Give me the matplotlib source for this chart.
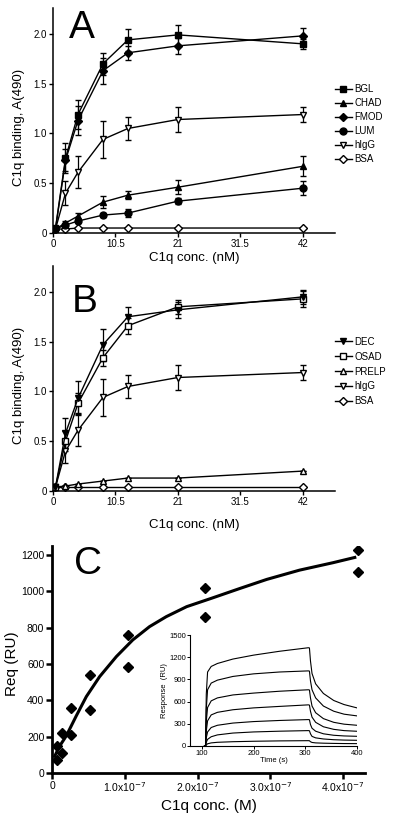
import numpy as np
import matplotlib
matplotlib.use("Agg")
import matplotlib.pyplot as plt
from matplotlib.lines import Line2D

plt.rcParams["font.family"] = ["Liberation Sans", "DejaVu Sans"]

# ---- panel A / B : ELISA binding, C1q conc. (nM) ----
conc_nm = [0.42, 2.1, 4.2, 8.4, 12.6, 21, 42]

bgl = [0.05, 0.75, 1.19, 1.70, 1.94, 1.99, 1.90]
bgl_err = [0.0, 0.15, 0.15, 0.11, 0.11, 0.10, 0.05]
chad = [0.04, 0.10, 0.17, 0.31, 0.38, 0.46, 0.67]
chad_err = [0.0, 0.02, 0.03, 0.06, 0.04, 0.07, 0.10]
fmod = [0.04, 0.73, 1.13, 1.63, 1.81, 1.88, 1.98]
fmod_err = [0.0, 0.11, 0.15, 0.13, 0.07, 0.08, 0.08]
lum = [0.04, 0.08, 0.12, 0.18, 0.20, 0.32, 0.45]
lum_err = [0.0, 0.01, 0.02, 0.02, 0.04, 0.03, 0.07]
higg = [0.04, 0.40, 0.61, 0.94, 1.05, 1.14, 1.19]
higg_err = [0.0, 0.12, 0.16, 0.19, 0.12, 0.13, 0.08]
bsa_a = [0.04, 0.04, 0.05, 0.05, 0.05, 0.05, 0.05]

dec = [0.04, 0.58, 0.93, 1.47, 1.75, 1.82, 1.95]
dec_err = [0.0, 0.15, 0.17, 0.16, 0.10, 0.08, 0.07]
osad = [0.04, 0.50, 0.88, 1.34, 1.66, 1.85, 1.93]
osad_err = [0.0, 0.10, 0.10, 0.08, 0.08, 0.07, 0.08]
prelp = [0.04, 0.05, 0.07, 0.10, 0.13, 0.13, 0.20]
bsa_b = [0.04, 0.04, 0.04, 0.04, 0.04, 0.04, 0.04]

xticks_nm = [0, 10.5, 21, 31.5, 42]
xtick_labels_nm = ["0", "10.5", "21", "31.5", "42"]
yticks_ab = [0, 0.5, 1.0, 1.5, 2.0]
ytick_labels_ab = ["0", "0.5", "1.0", "1.5", "2.0"]

# ---- panel C : SPR equilibrium response ----
conc_m = [0.0656e-7, 0.0656e-7, 0.131e-7, 0.131e-7, 0.2625e-7, 0.2625e-7,
          0.525e-7, 0.525e-7, 1.05e-7, 1.05e-7, 2.1e-7, 2.1e-7, 4.2e-7, 4.2e-7]
req = [71, 146, 108, 223, 209, 359, 348, 540, 586, 762, 861, 1020, 1108, 1227]

# fitted curve
fit_x = [0.037e-7, 0.1e-7, 0.197e-7, 0.334e-7, 0.472e-7, 0.655e-7, 0.884e-7,
         1.11e-7, 1.34e-7, 1.57e-7, 1.85e-7, 2.19e-7, 2.58e-7, 2.95e-7,
         3.40e-7, 3.86e-7, 4.16e-7]
fit_y = [92, 145, 205, 315, 421, 531, 641, 733, 806, 861, 916, 962, 1016,
         1066, 1117, 1158, 1187]

xticks_m = [0, 1e-7, 2e-7, 3e-7, 4e-7]
xtick_labels_m = ["0", "1.0x10$^{-7}$", "2.0x10$^{-7}$", "3.0x10$^{-7}$", "4.0x10$^{-7}$"]
yticks_c = [0, 200, 400, 600, 800, 1000, 1200]

# inset sensorgrams
sg_time = [105, 107, 108.5, 111, 118, 130, 160, 200, 250, 306, 308, 310, 313,
           320, 335, 355, 375, 400]
sg_curves = [
    [0, 0, 700, 1000, 1075, 1115, 1175, 1228, 1280, 1328, 1325, 1150, 980, 840, 710, 615, 560, 515],
    [0, 0, 500, 760, 850, 890, 940, 975, 1000, 1015, 1012, 880, 760, 650, 540, 470, 430, 407],
    [0, 0, 330, 520, 610, 650, 690, 715, 740, 760, 757, 650, 540, 450, 370, 320, 295, 280],
    [0, 0, 200, 340, 420, 455, 490, 515, 535, 556, 553, 470, 390, 320, 260, 225, 208, 199],
    [0, 0, 110, 190, 250, 280, 310, 330, 345, 357, 355, 290, 240, 200, 165, 145, 136, 131],
    [0, 0, 50, 90, 125, 150, 175, 190, 200, 208, 206, 165, 130, 110, 95, 85, 80, 77],
    [0, 0, 15, 30, 42, 50, 58, 64, 69, 72, 71, 58, 48, 42, 38, 35, 33, 32],
]

W, H = 400, 818
fig = plt.figure(figsize=(W / 100, H / 100), dpi=100)


def px_axes(left, top, right, bottom):
    ax = fig.add_axes([left / W, 1 - bottom / H, (right - left) / W, (bottom - top) / H])
    ax.patch.set_alpha(0)
    return ax


def style_ab(ax, ymax):
    ax.spines["top"].set_visible(False)
    ax.spines["right"].set_visible(False)
    for s in ("left", "bottom"):
        ax.spines[s].set_linewidth(1.1)
    ax.set_xlim(0, 47.4)
    ax.set_ylim(0, ymax)
    ax.set_xticks(xticks_nm)
    ax.set_xticklabels(xtick_labels_nm)
    ax.set_yticks(yticks_ab)
    ax.set_yticklabels(ytick_labels_ab)
    ax.tick_params(labelsize=7, length=3, width=1, pad=1.5)
    ax.set_ylabel("C1q binding, A(490)", fontsize=9.5)
    ax.set_xlabel("C1q conc. (nM)", fontsize=9.5)


def series(ax, y, err, marker, fill, ms=5, label=None):
    mfc = "black" if fill else "white"
    ax.errorbar(conc_nm, y, yerr=err, color="black", lw=1, marker=marker,
                ms=ms, mfc=mfc, mec="black", mew=1, capsize=2.3, elinewidth=0.9,
                capthick=0.9, label=label)


def legend_handles(specs):
    hs = []
    for marker, fill, ms in specs:
        hs.append(Line2D([], [], color="black", lw=1, marker=marker, ms=ms,
                         mfc="black" if fill else "white", mec="black", mew=1))
    return hs


# ---- A ----
axA = px_axes(53, 8, 335, 233)
zero = [0] * 7
series(axA, bsa_a, zero, "D", False, ms=4.5)
series(axA, lum, lum_err, "o", True)
series(axA, chad, chad_err, "^", True)
series(axA, higg, higg_err, "v", False)
series(axA, fmod, fmod_err, "D", True, ms=4.5)
series(axA, bgl, bgl_err, "s", True)
style_ab(axA, 2.26)
axA.xaxis.set_label_coords(0.5, -0.085)
axA.yaxis.set_label_coords(-0.1, 0.47)
axA.text(0.055, 0.99, "A", transform=axA.transAxes, fontsize=28, va="top", ha="left")
hA = legend_handles([("s", True, 5), ("^", True, 5), ("D", True, 4.5),
                     ("o", True, 5), ("v", False, 5), ("D", False, 4.5)])
axA.legend(hA, ["BGL", "CHAD", "FMOD", "LUM", "hIgG", "BSA"], loc="upper left",
           bbox_to_anchor=(1.0, 0.66), frameon=False, fontsize=7, borderpad=0,
           handlelength=1.7, handletextpad=0.3, labelspacing=0.4, borderaxespad=0)

# ---- B ----
axB = px_axes(53, 266, 335, 491)
series(axB, bsa_b, zero, "D", False, ms=4.5)
series(axB, prelp, zero, "^", False)
series(axB, higg, higg_err, "v", False)
series(axB, osad, osad_err, "s", False)
series(axB, dec, dec_err, "v", True)
style_ab(axB, 2.26)
axB.xaxis.set_label_coords(0.5, -0.125)
axB.yaxis.set_label_coords(-0.1, 0.47)
axB.text(0.065, 0.92, "B", transform=axB.transAxes, fontsize=28, va="top", ha="left")
hB = legend_handles([("v", True, 5), ("s", False, 5), ("^", False, 5),
                     ("v", False, 5), ("D", False, 4.5)])
axB.legend(hB, ["DEC", "OSAD", "PRELP", "hIgG", "BSA"], loc="upper left",
           bbox_to_anchor=(1.0, 0.685), frameon=False, fontsize=7, borderpad=0,
           handlelength=1.7, handletextpad=0.3, labelspacing=0.5, borderaxespad=0)

# ---- C ----
axC = px_axes(52, 546, 365, 773)
axC.plot(fit_x, fit_y, color="black", lw=2.2)
axC.plot(conc_m, req, "D", color="black", ms=5, ls="none")
axC.spines["top"].set_visible(False)
axC.spines["right"].set_visible(False)
for s in ("left", "bottom"):
    axC.spines[s].set_linewidth(2)
axC.set_xlim(0, 4.3e-7)
axC.set_ylim(0, 1250)
axC.set_xticks(xticks_m)
axC.set_xticklabels(xtick_labels_m)
axC.set_yticks(yticks_c)
axC.tick_params(labelsize=7.5, length=4, width=1.8, pad=1.5)
axC.set_ylabel("Req (RU)", fontsize=11)
axC.set_xlabel("C1q conc. (M)", fontsize=11)
axC.yaxis.set_label_coords(-0.105, 0.48)
axC.xaxis.set_label_coords(0.5, -0.115)
axC.text(0.07, 1.0, "C", transform=axC.transAxes, fontsize=28, va="top", ha="left")

# inset
axI = px_axes(190, 635, 357, 746)
for y in sg_curves:
    axI.plot(sg_time, y, color="black", lw=0.8)
axI.set_xlim(77, 400)
axI.set_ylim(0, 1500)
axI.set_xticks([100, 200, 300, 400])
axI.set_yticks([0, 300, 600, 900, 1200, 1500])
axI.spines["top"].set_visible(False)
axI.spines["right"].set_visible(False)
for s in ("left", "bottom"):
    axI.spines[s].set_linewidth(0.8)
axI.tick_params(labelsize=5.5, length=2, width=0.7, pad=1)
axI.set_xlabel("Time (s)", fontsize=5.5, labelpad=0)
axI.set_ylabel("Response  (RU)", fontsize=5.5, labelpad=1)

fig.savefig("out.png", dpi=100)
